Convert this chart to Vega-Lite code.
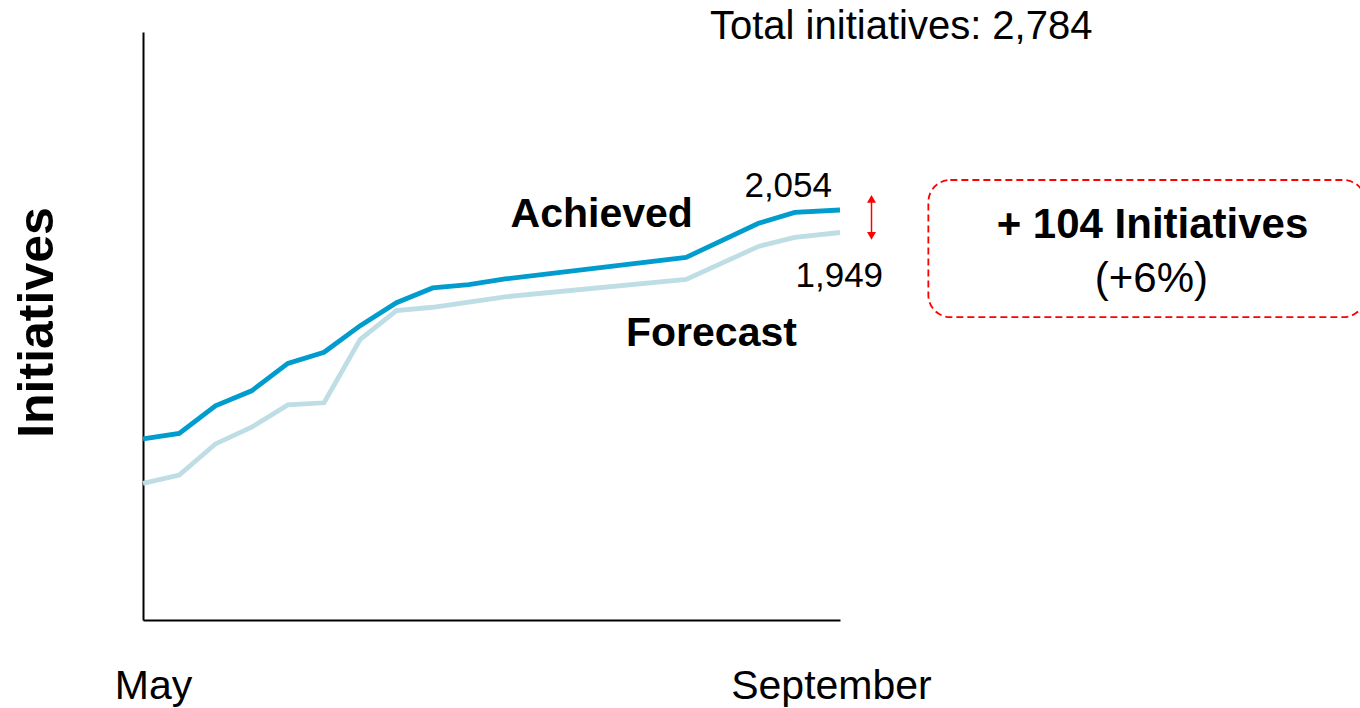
{
  "$schema": "https://vega.github.io/schema/vega-lite/v6.json",
  "width": 697,
  "height": 588,
  "autosize": {"type": "none"},
  "padding": {"left": 143, "top": 32, "right": 520, "bottom": 88},
  "background": "white",
  "config": {"view": {"stroke": null}, "font": "Liberation Sans"},
  "datasets": {
    "series": [
      {"series": "Forecast", "x": 0, "y": 778},
      {"series": "Forecast", "x": 1, "y": 817},
      {"series": "Forecast", "x": 2, "y": 962},
      {"series": "Forecast", "x": 3, "y": 1040},
      {"series": "Forecast", "x": 4, "y": 1144},
      {"series": "Forecast", "x": 5, "y": 1154},
      {"series": "Forecast", "x": 6, "y": 1450},
      {"series": "Forecast", "x": 7, "y": 1584},
      {"series": "Forecast", "x": 8, "y": 1600},
      {"series": "Forecast", "x": 9, "y": 1624},
      {"series": "Forecast", "x": 10, "y": 1649},
      {"series": "Forecast", "x": 15, "y": 1730},
      {"series": "Forecast", "x": 17, "y": 1884},
      {"series": "Forecast", "x": 18, "y": 1926},
      {"series": "Forecast", "x": 19.25, "y": 1949},
      {"series": "Achieved", "x": 0, "y": 985},
      {"series": "Achieved", "x": 1, "y": 1011},
      {"series": "Achieved", "x": 2, "y": 1140},
      {"series": "Achieved", "x": 3, "y": 1210},
      {"series": "Achieved", "x": 4, "y": 1338},
      {"series": "Achieved", "x": 5, "y": 1390},
      {"series": "Achieved", "x": 6, "y": 1514},
      {"series": "Achieved", "x": 7, "y": 1621},
      {"series": "Achieved", "x": 8, "y": 1690},
      {"series": "Achieved", "x": 9, "y": 1706},
      {"series": "Achieved", "x": 10, "y": 1732},
      {"series": "Achieved", "x": 15, "y": 1833},
      {"series": "Achieved", "x": 17, "y": 1992},
      {"series": "Achieved", "x": 18, "y": 2043},
      {"series": "Achieved", "x": 19.25, "y": 2054}
    ],
    "notes": [
      {"kind": "value", "label": "2,054", "x": 17.82, "y": 2115},
      {"kind": "value", "label": "1,949", "x": 19.23, "y": 1696},
      {"kind": "name", "label": "Achieved", "x": 12.67, "y": 1976},
      {"kind": "name", "label": "Forecast", "x": 15.7, "y": 1419},
      {"kind": "total", "label": "Total initiatives: 2,784", "x": 15.66, "y": 2852},
      {"kind": "delta", "label": "+ 104 Initiatives", "x": 27.88, "y": 1922},
      {"kind": "pct", "label": "(+6%)", "x": 27.85, "y": 1673}
    ],
    "box": [{"x": 21.69, "y": 2194, "x2": 33.76, "y2": 1554}],
    "arrow": [{"x": 20.12, "y": 2106, "y2": 1933}],
    "heads": [
      {"x": 20.12, "y": 2106, "dir": "up"},
      {"x": 20.12, "y": 1933, "dir": "down"}
    ]
  },
  "encoding": {
    "x": {
      "field": "x",
      "type": "quantitative",
      "scale": {"domain": [0, 19.25], "nice": false, "zero": false},
      "axis": {
        "title": null,
        "values": [0, 19.25],
        "labelExpr": "datum.value < 1 ? 'May' : 'September'",
        "labelOffset": {"condition": {"test": "datum.value < 1", "value": 10}, "value": -9},
        "labelAlign": "center",
        "labelFlush": false,
        "labelBound": false,
        "labelOverlap": false,
        "labelLimit": 600,
        "labelBaseline": "alphabetic",
        "labelPadding": 78,
        "labelFontSize": 41,
        "labelColor": "black",
        "labelFont": "Liberation Sans",
        "ticks": false,
        "tickSize": 0,
        "grid": false,
        "domainColor": "black",
        "domainWidth": 2
      }
    },
    "y": {
      "field": "y",
      "type": "quantitative",
      "scale": {"domain": [140, 2885], "nice": false, "zero": false},
      "axis": {
        "title": "Initiatives",
        "labels": false,
        "ticks": false,
        "tickSize": 0,
        "grid": false,
        "domainColor": "black",
        "domainWidth": 2,
        "titleFontSize": 50,
        "titleFontWeight": "bold",
        "titleColor": "black",
        "titleFont": "Liberation Sans",
        "titleAngle": 270,
        "titleX": -91,
        "titleY": 290,
        "titleAlign": "center",
        "titleBaseline": "alphabetic"
      }
    }
  },
  "layer": [
    {
      "data": {"name": "series"},
      "mark": {"type": "line", "strokeWidth": 4.8, "strokeJoin": "miter"},
      "encoding": {
        "color": {
          "field": "series",
          "type": "nominal",
          "scale": {"domain": ["Forecast", "Achieved"], "range": ["#BEDDE5", "#009CCD"]},
          "legend": null
        }
      }
    },
    {
      "data": {"name": "box"},
      "mark": {"type": "rect", "fill": "transparent", "stroke": "#FF0000", "strokeWidth": 1.8, "strokeDash": [7, 4], "cornerRadius": 22},
      "encoding": {"x2": {"field": "x2"}, "y2": {"field": "y2"}}
    },
    {
      "data": {"name": "arrow"},
      "mark": {"type": "rule", "color": "#FF0000", "strokeWidth": 1.5},
      "encoding": {"y2": {"field": "y2"}}
    },
    {
      "data": {"name": "heads"},
      "mark": {"type": "point", "filled": true, "color": "#FF0000", "size": 80, "opacity": 1},
      "encoding": {
        "shape": {
          "field": "dir",
          "type": "nominal",
          "scale": {"domain": ["up", "down"], "range": ["triangle-up", "triangle-down"]},
          "legend": null
        }
      }
    },
    {
      "data": {"name": "notes"},
      "transform": [{"filter": "datum.kind == 'value'"}],
      "mark": {"type": "text", "fontSize": 35, "font": "Liberation Sans", "color": "black", "align": "center", "baseline": "alphabetic"},
      "encoding": {"text": {"field": "label"}}
    },
    {
      "data": {"name": "notes"},
      "transform": [{"filter": "datum.kind == 'name'"}],
      "mark": {"type": "text", "fontSize": 41, "fontWeight": "bold", "font": "Liberation Sans", "color": "black", "align": "center", "baseline": "alphabetic"},
      "encoding": {"text": {"field": "label"}}
    },
    {
      "data": {"name": "notes"},
      "transform": [{"filter": "datum.kind == 'total'"}],
      "mark": {"type": "text", "fontSize": 40, "font": "Liberation Sans", "color": "black", "align": "left", "baseline": "alphabetic"},
      "encoding": {"text": {"field": "label"}}
    },
    {
      "data": {"name": "notes"},
      "transform": [{"filter": "datum.kind == 'delta'"}],
      "mark": {"type": "text", "fontSize": 42, "fontWeight": "bold", "font": "Liberation Sans", "color": "black", "align": "center", "baseline": "alphabetic"},
      "encoding": {"text": {"field": "label"}}
    },
    {
      "data": {"name": "notes"},
      "transform": [{"filter": "datum.kind == 'pct'"}],
      "mark": {"type": "text", "fontSize": 42, "font": "Liberation Sans", "color": "black", "align": "center", "baseline": "alphabetic"},
      "encoding": {"text": {"field": "label"}}
    }
  ]
}
